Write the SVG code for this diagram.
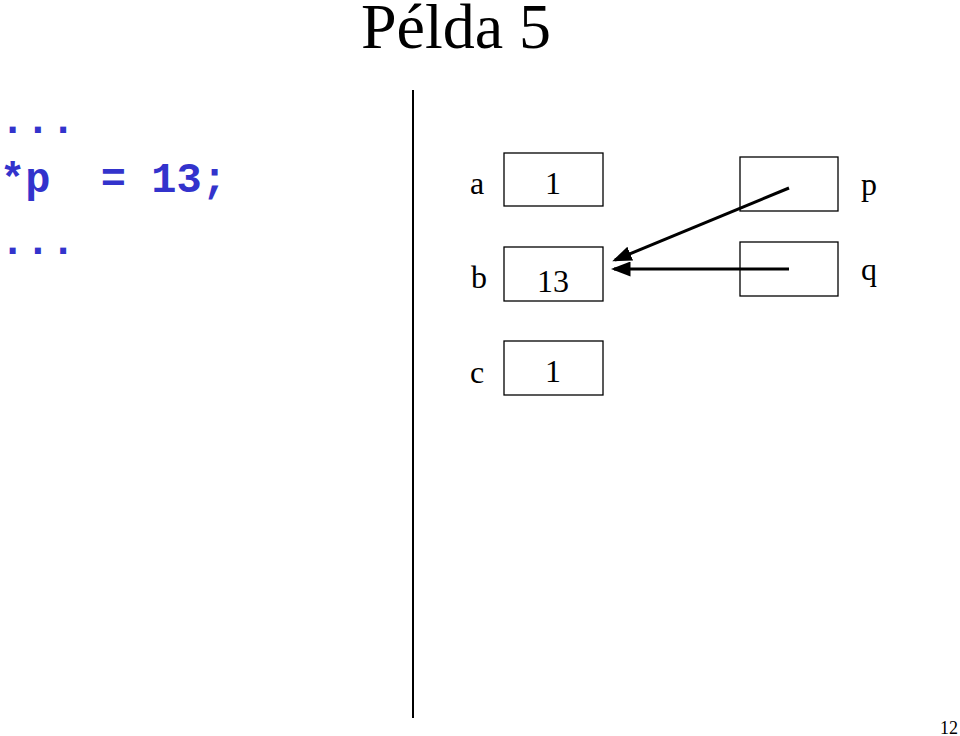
<svg xmlns="http://www.w3.org/2000/svg" width="960" height="736" viewBox="0 0 960 736">
<style>
.t{font-family:"Liberation Serif","Times New Roman",serif;fill:#000}
.lbl{font-size:32px}
.code{font-family:"Liberation Mono","Courier New",monospace;font-weight:bold;font-size:42px;fill:#3333cc}
.box{fill:#fff;stroke:#000;stroke-width:1.3}
.arr{stroke:#000;stroke-width:3;fill:none;marker-end:url(#ah)}
</style>
<defs>
<marker id="ah" markerWidth="6.5" markerHeight="5" refX="5.5" refY="2.5" orient="auto" markerUnits="strokeWidth">
<path d="M0,0 L6.5,2.5 L0,5 Z" fill="#000"/>
</marker>
</defs>
<rect width="960" height="736" fill="#fff"/>
<text class="t" x="456" y="48" font-size="64" text-anchor="middle">Példa 5</text>
<g id="code">
<text class="code" x="0" y="133">...</text>
<text class="code" x="0" y="192" xml:space="preserve">*p  = 13;</text>
<text class="code" x="0" y="254">...</text>
</g>
<line x1="413" y1="90" x2="413" y2="718" stroke="#000" stroke-width="2"/>
<g id="a">
<text class="t lbl" x="477" y="194" text-anchor="middle">a</text>
<rect class="box" x="504" y="153" width="99" height="53"/>
<text class="t lbl" x="553" y="194" text-anchor="middle">1</text>
</g>
<g id="b">
<text class="t lbl" x="479" y="288" text-anchor="middle">b</text>
<rect class="box" x="504" y="247" width="99" height="54"/>
<text class="t lbl" x="553" y="292" text-anchor="middle">13</text>
</g>
<g id="c">
<text class="t lbl" x="477" y="383" text-anchor="middle">c</text>
<rect class="box" x="504" y="341" width="99" height="54"/>
<text class="t lbl" x="553" y="382" text-anchor="middle">1</text>
</g>
<g id="p">
<rect class="box" x="740" y="157" width="98" height="54"/>
<text class="t lbl" x="869" y="195" text-anchor="middle">p</text>
</g>
<g id="q">
<rect class="box" x="740" y="242" width="98" height="54"/>
<text class="t lbl" x="869" y="280" text-anchor="middle">q</text>
</g>
<g id="connectors">
<line class="arr" x1="789" y1="188" x2="615" y2="260"/>
<line class="arr" x1="789" y1="269" x2="614" y2="269"/>
</g>
<text class="t" x="958" y="734" font-size="18" text-anchor="end">12</text>
</svg>
